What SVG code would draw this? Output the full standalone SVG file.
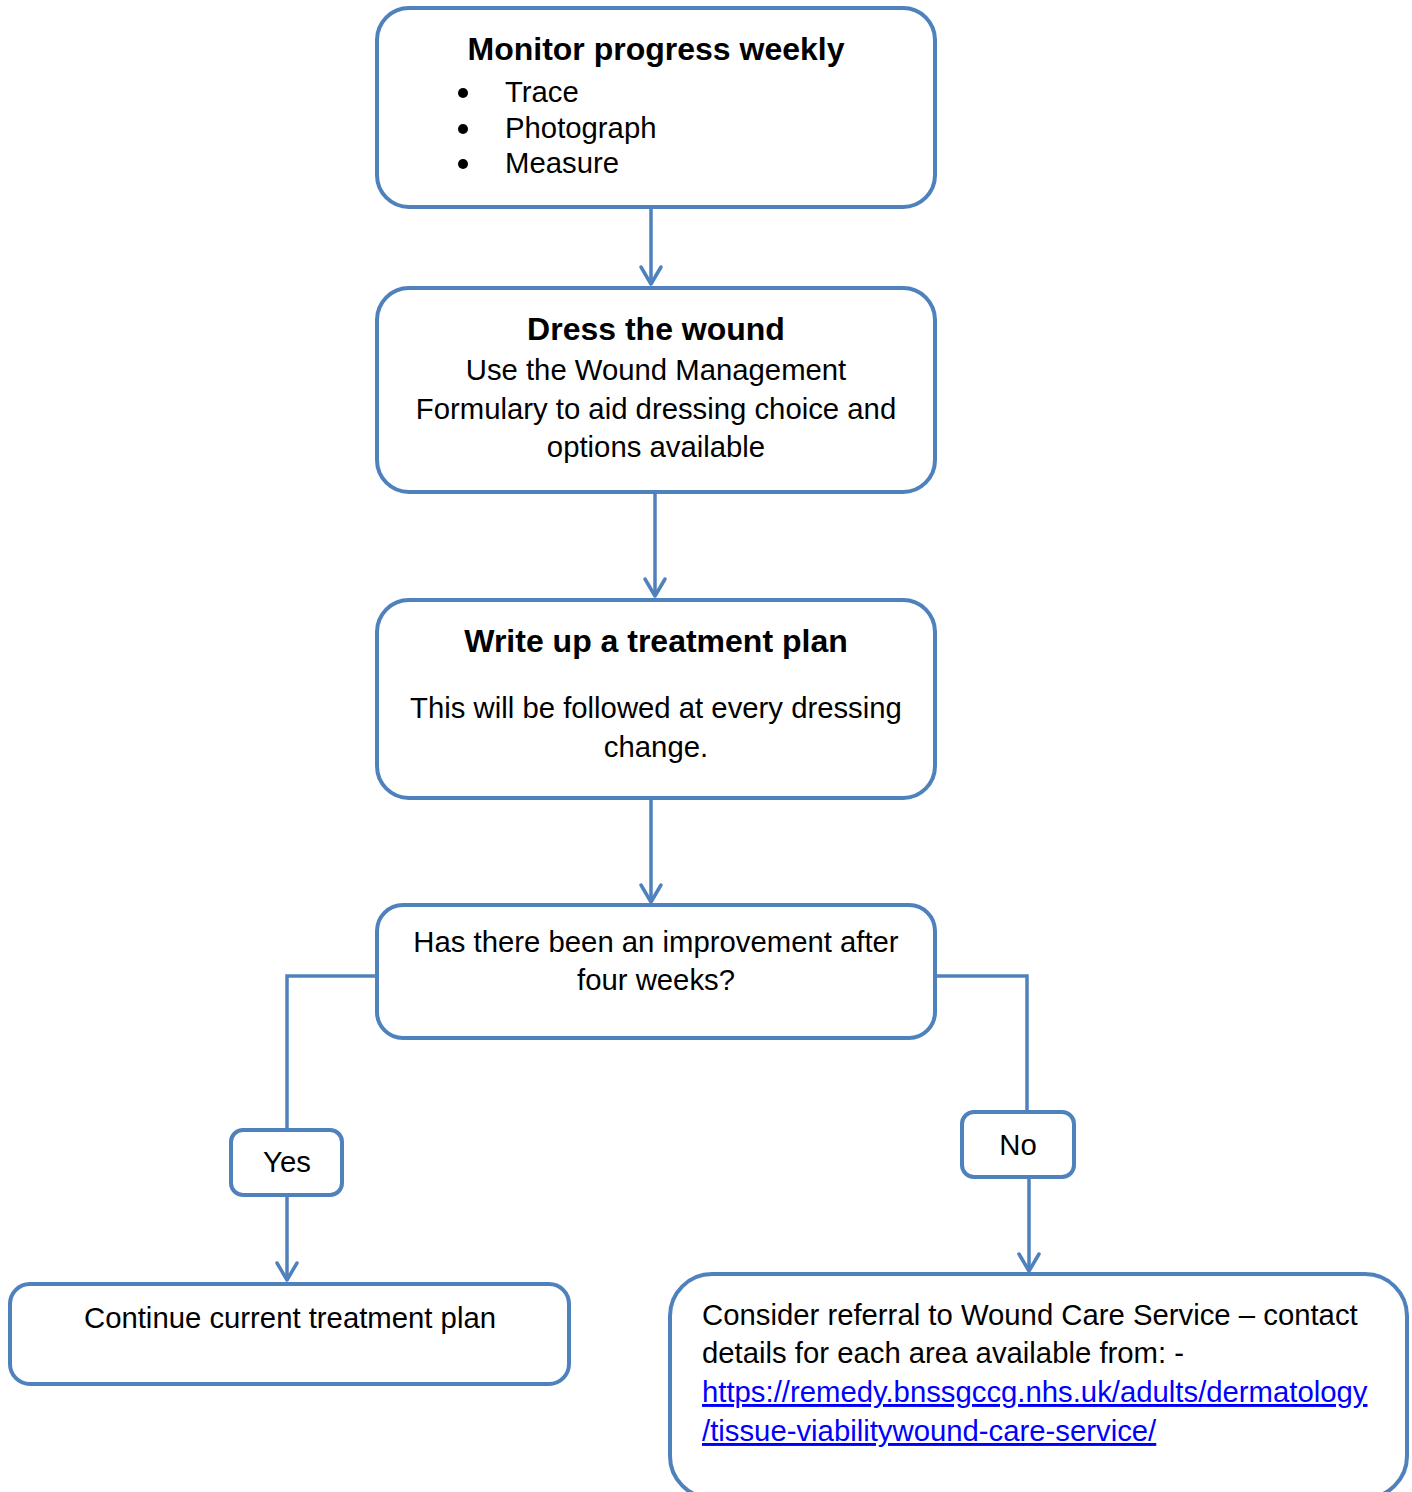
<svg xmlns="http://www.w3.org/2000/svg" width="1412" height="1492" viewBox="0 0 1412 1492">
<defs>
<style>
.box{fill:#fff;stroke:#4F81BD;stroke-width:4}
.con{fill:none;stroke:#4F81BD;stroke-width:3.5}
.ah{fill:none;stroke:#4F81BD;stroke-width:3.5;stroke-linecap:round;stroke-linejoin:round}
text{font-family:"Liberation Sans",Arial,sans-serif;fill:#000}
.t{font-size:32px;font-weight:bold;text-anchor:middle}
.b{font-size:29.3px}
.c{text-anchor:middle}
.link{fill:#0000FF;text-decoration:underline}
</style>
</defs>
<rect width="1412" height="1492" fill="#fff"/>
<g id="connectors">
<path class="con" d="M651 207 V284"/>
<path class="ah" d="M641 267 L651 284 L661 267"/>
<path class="con" d="M655 492 V596"/>
<path class="ah" d="M645 579 L655 596 L665 579"/>
<path class="con" d="M651 798 V902"/>
<path class="ah" d="M641 885 L651 902 L661 885"/>
<path class="con" d="M377 976 H287 V1130"/>
<path class="con" d="M287 1195 V1280"/>
<path class="ah" d="M277 1263 L287 1280 L297 1263"/>
<path class="con" d="M935 976 H1027 V1112"/>
<path class="con" d="M1029 1177 V1271"/>
<path class="ah" d="M1019 1254 L1029 1271 L1039 1254"/>
</g>
<g id="monitor">
<rect class="box" x="377" y="8" width="558" height="199" rx="32"/>
<text class="t" x="656" y="60">Monitor progress weekly</text>
<circle cx="463" cy="93" r="5"/>
<circle cx="463" cy="129" r="5"/>
<circle cx="463" cy="164" r="5"/>
<text class="b" x="505" y="102">Trace</text>
<text class="b" x="505" y="138">Photograph</text>
<text class="b" x="505" y="173">Measure</text>
</g>
<g id="dress">
<rect class="box" x="377" y="288" width="558" height="204" rx="32"/>
<text class="t" x="656" y="340">Dress the wound</text>
<text class="b c" x="656" y="380">Use the Wound Management</text>
<text class="b c" x="656" y="419">Formulary to aid dressing choice and</text>
<text class="b c" x="656" y="457">options available</text>
</g>
<g id="plan">
<rect class="box" x="377" y="600" width="558" height="198" rx="32"/>
<text class="t" x="656" y="652">Write up a treatment plan</text>
<text class="b c" x="656" y="718">This will be followed at every dressing</text>
<text class="b c" x="656" y="757">change.</text>
</g>
<g id="question">
<rect class="box" x="377" y="905" width="558" height="133" rx="26"/>
<text class="b c" x="656" y="952">Has there been an improvement after</text>
<text class="b c" x="656" y="990">four weeks?</text>
</g>
<g id="yes">
<rect class="box" x="231" y="1130" width="111" height="65" rx="12"/>
<text class="b c" x="287" y="1172">Yes</text>
</g>
<g id="no">
<rect class="box" x="962" y="1112" width="112" height="65" rx="12"/>
<text class="b c" x="1018" y="1155">No</text>
</g>
<g id="continue">
<rect class="box" x="10" y="1284" width="559" height="100" rx="20"/>
<text class="b c" x="290" y="1328">Continue current treatment plan</text>
</g>
<g id="referral">
<rect class="box" x="670" y="1274" width="737" height="224" rx="42"/>
<text class="b" x="702" y="1325">Consider referral to Wound Care Service – contact</text>
<text class="b" x="702" y="1363">details for each area available from: -</text>
<text class="b link" x="702" y="1402">https://remedy.bnssgccg.nhs.uk/adults/dermatology</text>
<text class="b link" x="702" y="1441">/tissue-viabilitywound-care-service/</text>
</g>
</svg>
